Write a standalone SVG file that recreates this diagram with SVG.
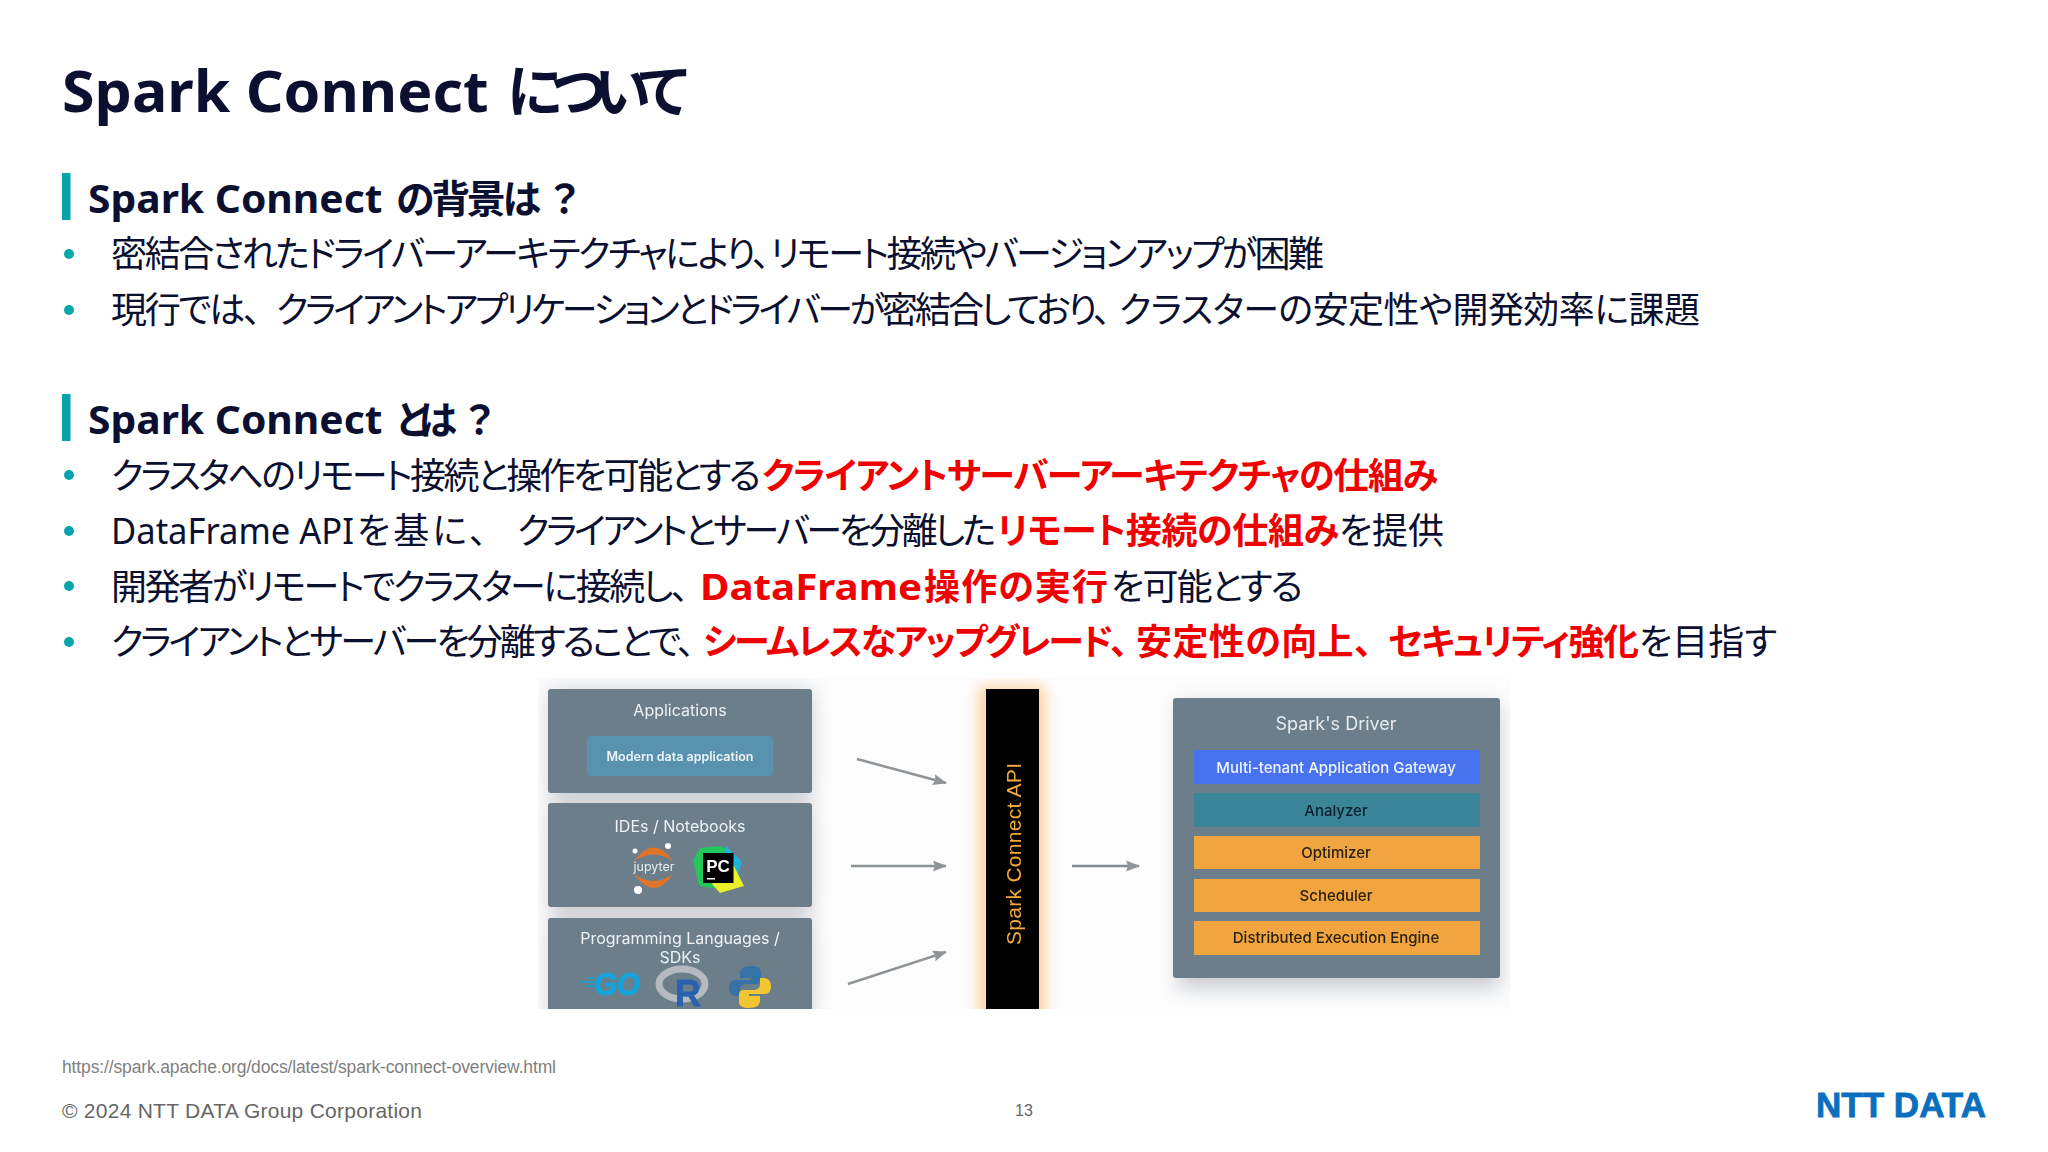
<svg xmlns="http://www.w3.org/2000/svg" width="2048" height="1152" viewBox="0 0 2048 1152">
<style>
text{font-family:"Noto Sans","Noto Sans CJK JP",sans-serif;fill:#0b1030;font-feature-settings:"palt";}
.t{font-weight:700;font-size:57px}
.h{font-weight:700;font-size:39px}
.b{font-size:36px}
.r{fill:#f00000;font-weight:700}
.bar{fill:#08a4ad}
.dot{fill:#08a4ad}
.d{font-family:Inter,"Noto Sans",sans-serif;text-anchor:middle;font-feature-settings:normal}
.pn{fill:#6d7e8b}
.wt{fill:#eef2f4;font-size:16px}
.row{font-size:15px;font-weight:500}
.f{font-family:"Liberation Sans",sans-serif;font-feature-settings:normal}
</style>
<defs>
<clipPath id="clip"><rect x="538" y="678" width="972" height="331"/></clipPath>
<filter id="sh" x="-30%" y="-30%" width="160%" height="160%"><feGaussianBlur stdDeviation="10"/></filter>
<filter id="gl" x="-100%" y="-10%" width="300%" height="120%"><feGaussianBlur stdDeviation="7"/></filter>
<filter id="soft" x="-5%" y="-5%" width="110%" height="110%"><feGaussianBlur stdDeviation="0.45"/></filter>
<marker id="ah2" markerWidth="14" markerHeight="11" refX="13" refY="5.5" orient="auto" markerUnits="userSpaceOnUse"><path d="M0 0L14 5.5L0 11L2 5.5Z" fill="#8f9497"/></marker>
</defs>
<rect width="2048" height="1152" fill="#fff"/>
<g id="title"><text class="t" y="112"><tspan x="62" textLength="442" lengthAdjust="spacingAndGlyphs">Spark Connect </tspan><tspan x="507" textLength="181">について</tspan></text></g>
<g id="sec1">
<rect class="bar" x="62" y="173" width="8.5" height="47"/>
<text class="h" y="213"><tspan x="88" textLength="305" lengthAdjust="spacingAndGlyphs">Spark Connect </tspan><tspan x="396" textLength="145">の背景は</tspan><tspan x="551">？</tspan></text>
<circle class="dot" cx="69" cy="254" r="5"/><text class="b" y="267"><tspan x="111" textLength="659">密結合されたドライバーアーキテクチャにより、</tspan><tspan x="770" textLength="554">リモート接続やバージョンアップが困難</tspan></text>
<circle class="dot" cx="69" cy="310" r="5"/><text class="b" y="323"><tspan x="111" textLength="150">現行では、</tspan><tspan x="276" textLength="835">クライアントアプリケーションとドライバーが密結合しており、</tspan><tspan x="1119" textLength="581">クラスターの安定性や開発効率に課題</tspan></text>
</g>
<g id="sec2">
<rect class="bar" x="62" y="394" width="8.5" height="47"/>
<text class="h" y="434"><tspan x="88" textLength="305" lengthAdjust="spacingAndGlyphs">Spark Connect </tspan><tspan x="396" textLength="61">とは</tspan><tspan x="466">？</tspan></text>
<circle class="dot" cx="69" cy="475" r="5"/><text class="b" y="489"><tspan x="111" textLength="650">クラスタへのリモート接続と操作を可能とする</tspan><tspan class="r" x="762" textLength="676">クライアントサーバーアーキテクチャの仕組み</tspan></text>
<circle class="dot" cx="69" cy="531" r="5"/><text class="b" y="544"><tspan x="111" textLength="243" lengthAdjust="spacingAndGlyphs">DataFrame API</tspan><tspan x="357" textLength="130">を基に、</tspan><tspan x="517" textLength="479">クライアントとサーバーを分離した</tspan><tspan class="r" x="997" textLength="342">リモート接続の仕組み</tspan><tspan x="1339" textLength="105">を提供</tspan></text>
<circle class="dot" cx="69" cy="586" r="5"/><text class="b" y="600"><tspan x="111" textLength="578">開発者がリモートでクラスターに接続し、</tspan><tspan class="r" x="700" textLength="222" lengthAdjust="spacingAndGlyphs">DataFrame</tspan><tspan class="r" x="924" textLength="184">操作の実行</tspan><tspan x="1111" textLength="192">を可能とする</tspan></text>
<circle class="dot" cx="69" cy="642" r="5"/><text class="b" y="655"><tspan x="111" textLength="584">クライアントとサーバーを分離することで、</tspan><tspan class="r" x="703" textLength="425">シームレスなアップグレード、</tspan><tspan class="r" x="1136" textLength="236">安定性の向上、</tspan><tspan class="r" x="1388" textLength="251">セキュリティ強化</tspan><tspan x="1639" textLength="138">を目指す</tspan></text>
</g>
<g id="figure" clip-path="url(#clip)">
<rect x="538" y="678" width="972" height="331" fill="#fdfdfe"/>
<g id="shadows" fill="#8a929a" opacity="0.45" filter="url(#sh)">
<rect x="550" y="690" width="262" height="110"/><rect x="550" y="806" width="262" height="108"/><rect x="550" y="920" width="262" height="100"/>
<rect x="1178" y="704" width="322" height="285"/>
</g>
<rect x="979" y="686" width="66" height="344" fill="#ffb060" opacity="0.6" filter="url(#gl)"/>
<g filter="url(#soft)">
<g id="applications">
<rect class="pn" x="548" y="689" width="264" height="104" rx="3"/>
<text class="d wt" x="680" y="716">Applications</text>
<rect x="587" y="736" width="186" height="40" rx="4" fill="#5992ae"/>
<text class="d" x="680" y="761" font-size="12.5" font-weight="600" style="fill:#eef4f7">Modern data application</text>
</g>
<g id="ides">
<rect class="pn" x="548" y="803" width="264" height="104" rx="3"/>
<text class="d wt" x="680" y="832">IDEs / Notebooks</text>
<path d="M634 861Q654 834 673 861Q654 848 634 861Z" fill="#e0752b"/>
<path d="M634 874Q654 902 673 874Q654 888 634 874Z" fill="#e0752b"/>
<circle cx="635" cy="851" r="2.5" fill="#fff"/><circle cx="668" cy="846" r="3" fill="#fff"/><circle cx="638" cy="890" r="4" fill="#fff"/>
<text class="d" x="654" y="871" font-size="12.5" style="fill:#e8ecee">jupyter</text>
<polygon points="693,860 700,848 720,846 731,852 727,890 699,886" fill="#21c65a"/>
<polygon points="726,846 742,862 738,874 722,862" fill="#21b0e0"/>
<polygon points="712,884 731,860 744,886 720,893" fill="#eaf02a"/>
<rect x="703" y="853" width="30.5" height="30" fill="#000"/>
<text x="718" y="872" text-anchor="middle" font-size="17" font-weight="700" style="fill:#fff;font-family:'Liberation Sans',sans-serif">PC</text>
<rect x="707" y="878" width="8" height="1.5" fill="#fff"/>
</g>
<g id="sdks">
<rect class="pn" x="548" y="918" width="264" height="110" rx="3"/>
<text class="d wt" x="680" y="944">Programming Languages /</text>
<text class="d wt" x="680" y="963">SDKs</text>
<path d="M580 982h16M586 986h10M588 978h8" stroke="#17a3da" stroke-width="1.5"/>
<text x="594" y="995" font-size="32" font-weight="700" textLength="46" lengthAdjust="spacingAndGlyphs" style="fill:#17a3da;font-family:'Liberation Sans',sans-serif;stroke:#17a3da;stroke-width:1.2" font-style="italic">GO</text>
<ellipse cx="682" cy="984" rx="23" ry="15" fill="none" stroke="#b4bac0" stroke-width="7"/>
<text x="675" y="1006" font-size="36" font-weight="700" style="fill:#2a62b0;font-family:'Liberation Sans',sans-serif;stroke:#2a62b0;stroke-width:.8">R</text>
<g transform="translate(750,987)">
<path d="M1-21C-8-21-10-17-10-14V-9H1V-7H-15C-20-7-21-2-21 1C-21 6-18 9-14 9H-10V3C-10-1-7-3-3-3H7C10-3 11-6 11-8V-15C11-19 7-21 1-21Z" fill="#3572a5"/>
<path transform="rotate(180)" d="M1-21C-8-21-10-17-10-14V-9H1V-7H-15C-20-7-21-2-21 1C-21 6-18 9-14 9H-10V3C-10-1-7-3-3-3H7C10-3 11-6 11-8V-15C11-19 7-21 1-21Z" fill="#f2c531"/>
</g>
</g>
<g id="api">
<rect x="986" y="689" width="53" height="330" fill="#000"/>
<text transform="translate(1021,945) rotate(-90)" font-size="21" textLength="182" style="fill:#f2a83e;font-family:'Liberation Sans',sans-serif;font-feature-settings:normal">Spark Connect API</text>
</g>
<g id="connectors" fill="none" stroke-width="2.4">
<line x1="857" y1="759" x2="946" y2="783" stroke="#8f9497" marker-end="url(#ah2)"/>
<line x1="851" y1="866" x2="946" y2="866" stroke="#8f9497" marker-end="url(#ah2)"/>
<line x1="848" y1="984" x2="946" y2="952" stroke="#8f9497" marker-end="url(#ah2)"/>
<line x1="1072" y1="866" x2="1139" y2="866" stroke="#7d8b94" marker-end="url(#ah2)"/>
</g>
<g id="driver">
<rect class="pn" x="1173" y="698" width="327" height="280" rx="3"/>
<text class="d" x="1336" y="730" font-size="18" style="fill:#e6ebee">Spark's Driver</text>
<rect x="1194" y="750" width="286" height="34" fill="#4a73ee"/>
<text class="d row" x="1336" y="773" style="fill:#f0f4ff">Multi-tenant Application Gateway</text>
<rect x="1194" y="793" width="286" height="34" fill="#3b8598"/>
<text class="d row" x="1336" y="816" style="fill:#08202f">Analyzer</text>
<rect x="1194" y="836" width="286" height="33" fill="#f0a53f"/>
<text class="d row" x="1336" y="858" style="fill:#2b2010">Optimizer</text>
<rect x="1194" y="879" width="286" height="33" fill="#f0a53f"/>
<text class="d row" x="1336" y="901" style="fill:#2b2010">Scheduler</text>
<rect x="1194" y="921" width="286" height="34" fill="#f0a53f"/>
<text class="d row" x="1336" y="943" style="fill:#2b2010">Distributed Execution Engine</text>
</g>
</g>
</g>
<g id="footer">
<text class="f" x="62" y="1073" font-size="17.5" textLength="494" style="fill:#7f7f7f">https://spark.apache.org/docs/latest/spark-connect-overview.html</text>
<text class="f" x="62" y="1118" font-size="21" textLength="360" style="fill:#666">© 2024 NTT DATA Group Corporation</text>
<text class="f" x="1024" y="1116" font-size="16" text-anchor="middle" style="fill:#666">13</text>
<text class="f" x="1816" y="1117" font-size="35" font-weight="700" textLength="170" lengthAdjust="spacingAndGlyphs" style="fill:#0a6fbd;stroke:#0a6fbd;stroke-width:.8">NTT DATA</text>
</g>
</svg>
